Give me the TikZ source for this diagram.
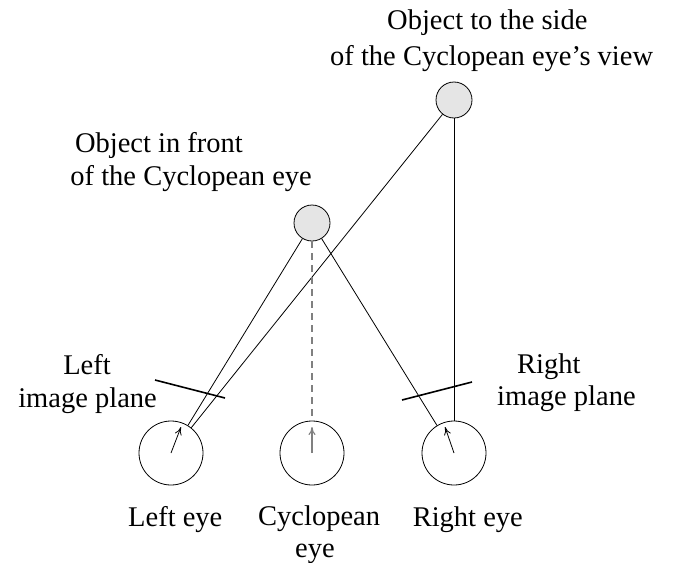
\documentclass[tikz,border=0pt]{standalone}
\usepackage{fontspec}
\setmainfont{Liberation Serif}
\usetikzlibrary{arrows.meta}
\begin{document}
\begin{tikzpicture}[x=1pt,y=-1pt,
  obj/.style={circle,draw,fill=black!10,minimum size=36pt,inner sep=0pt,line width=0.8pt},
  eyeball/.style={circle,draw,minimum size=64pt,inner sep=0pt,line width=0.8pt},
  ray/.style={line width=0.8pt},
  plane/.style={line width=1.6pt},
  gaze/.style={line width=0.8pt,-{To[length=8pt,width=7pt]}},
  lbl/.style={font=\fontsize{28.5}{34}\selectfont,inner sep=0pt}]
\useasboundingbox (0,0) rectangle (684,562);
\node[obj] (objF) at (312,223) {};
\node[obj] (objS) at (454,100) {};
\node[eyeball] (eyeL) at (171,453) {};
\node[eyeball] (eyeC) at (312,453) {};
\node[eyeball] (eyeR) at (454,453) {};
\draw[ray] (objF) -- (eyeL);
\draw[ray] (objS) -- (eyeL);
\draw[ray] (objF) -- (eyeR);
\draw[ray] (objS) -- (eyeR);
\draw[line width=1.3pt,draw=black!50,dash pattern=on 7pt off 5pt] (objF) -- (eyeC);
\coordinate (gL) at (181,427);
\coordinate (gC) at (312,427);
\coordinate (gR) at (445,427);
\draw[gaze] (eyeL.center) -- (gL);
\draw[gaze,line width=1.1pt,draw=black!50] (eyeC.center) -- (gC);
\draw[gaze] (eyeR.center) -- (gR);
\coordinate (lp1) at (155,380);
\coordinate (lp2) at (225,398);
\coordinate (rp1) at (402,400);
\coordinate (rp2) at (472,382);
\draw[plane] (lp1) -- (lp2);
\draw[plane] (rp1) -- (rp2);
\node[lbl,anchor=base west] (tS1) at (387,29) {Object to the side};
\node[lbl,anchor=base west] (tS2) at (330,65) {of the Cyclopean eye's view};
\node[lbl,anchor=base east] (tF1) at (243,152) {Object in front};
\node[lbl,anchor=base east] (tF2) at (312,185) {of the Cyclopean eye};
\node[lbl,anchor=base] (tL1) at (87,374) {Left};
\node[lbl,anchor=base east] (tL2) at (157,407) {image plane};
\node[lbl,anchor=base west] (tR1) at (517,373) {Right};
\node[lbl,anchor=base west] (tR2) at (497,405) {image plane};
\node[lbl,anchor=base west] (tEL) at (128,526) {Left eye};
\node[lbl,anchor=base west] (tEC1) at (258,525) {Cyclopean};
\node[lbl,anchor=base west] (tEC2) at (295,557) {eye};
\node[lbl,anchor=base east] (tER) at (523,526) {Right eye};
\end{tikzpicture}
\end{document}
